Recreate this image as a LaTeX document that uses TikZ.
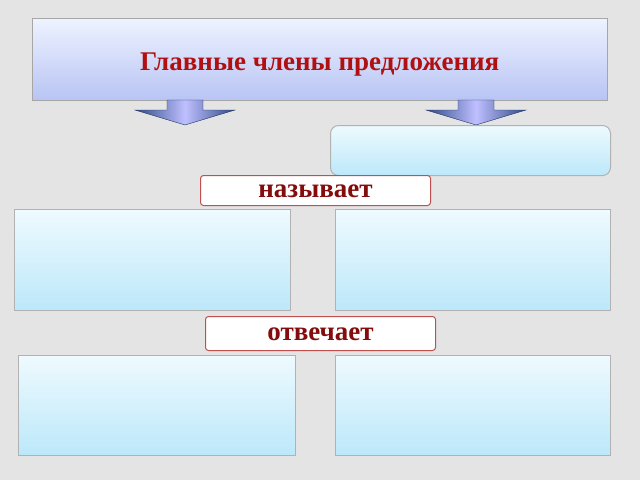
\documentclass[tikz,border=0pt]{standalone}
\usepackage{fontspec}
\setmainfont{Liberation Serif}
\definecolor{bgray}{HTML}{E4E4E4}
\definecolor{titlered}{HTML}{B01010}
\definecolor{framered}{HTML}{C0504D}
\definecolor{arrowblue}{HTML}{2E4A86}
\definecolor{titletop}{HTML}{EEF3FF}
\definecolor{titlebot}{HTML}{B8C4F4}
\definecolor{celltop}{HTML}{EEFAFE}
\definecolor{cellbot}{HTML}{BCE8FA}
\tikzset{
  titlebox/.style={draw=gray!70, top color=titletop, bottom color=titlebot, font=\bfseries\fontsize{27}{32}\selectfont, text=titlered, text height=22pt, text depth=0pt},
  cellbox/.style={draw=gray!60, line width=1pt, top color=celltop, bottom color=cellbot},
  tagbox/.style={draw=framered, line width=1pt, rounded corners=3pt, fill=white, font=\bfseries\fontsize{27}{30}\selectfont, text=titlered!75!black, text height=16pt, text depth=2pt},
  downarrow/.style={draw=arrowblue!70!black, left color=arrowblue, right color=arrowblue, middle color=blue!25},
}
\begin{document}
\begin{tikzpicture}[x=1pt,y=-1pt]
\useasboundingbox (0,0) rectangle (640,480);
\fill[bgray] (0,0) rectangle (640,480);
% title
\node[titlebox, minimum width=575, minimum height=82, anchor=north west] (title) at (32,18) {Главные члены предложения};
% arrows
\foreach \n/\cx in {left/185,right/476}{
  \draw[downarrow] (\cx-18,100) -- (\cx+18,100) -- (\cx+18,110) -- (\cx+50,110) -- (\cx,125) -- (\cx-50,110) -- (\cx-18,110) -- cycle;
}
% boxes
\node[cellbox, rounded corners=8pt, minimum width=280, minimum height=50, anchor=north west] (pred) at (330,125) {};
\node[tagbox, minimum width=230, minimum height=30, inner sep=0pt, anchor=north west] (names) at (200,175) {называет};
\node[cellbox, minimum width=276, minimum height=101, anchor=north west] (nameL) at (14,209) {};
\node[cellbox, minimum width=275, minimum height=101, anchor=north west] (nameR) at (335,209) {};
\node[tagbox, minimum width=230, minimum height=34, inner sep=0pt, anchor=north west] (answers) at (205,316) {отвечает};
\node[cellbox, minimum width=277, minimum height=100, anchor=north west] (ansL) at (18,355) {};
\node[cellbox, minimum width=275, minimum height=100, anchor=north west] (ansR) at (335,355) {};
\end{tikzpicture}
\end{document}
